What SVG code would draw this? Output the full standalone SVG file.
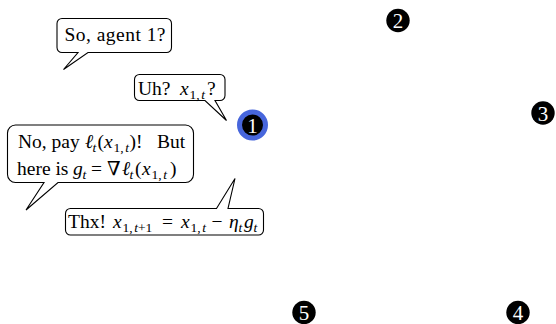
<svg xmlns="http://www.w3.org/2000/svg" width="556" height="324" viewBox="0 0 556 324">
<style>
.b{fill:#fff;stroke:#000;stroke-width:1.1;stroke-linejoin:miter}
.t{font-family:"Liberation Serif","DejaVu Serif",serif;font-size:19.5px;fill:#000}
.i{font-style:italic}
.s{font-size:13.5px}
.dot{fill:#000}
.n{font-family:"Liberation Serif","DejaVu Serif",serif;font-size:21px;fill:#fff;text-anchor:middle}
</style>
<rect width="556" height="324" fill="#fff"/>
<g id="agent1">
<circle cx="252.5" cy="125" r="13" fill="#000" stroke="#4766dc" stroke-width="5"/>
<text class="n" x="252.5" y="132.5">1</text>
</g>
<g id="agent2">
<circle class="dot" cx="398" cy="20.5" r="11.7"/>
<text class="n" x="398" y="28">2</text>
</g>
<g id="agent3">
<circle class="dot" cx="543" cy="113" r="11.7"/>
<text class="n" x="543" y="120.5">3</text>
</g>
<g id="agent4">
<circle class="dot" cx="518" cy="312.5" r="11.7"/>
<text class="n" x="518" y="320">4</text>
</g>
<g id="agent5">
<circle class="dot" cx="304" cy="312.5" r="11.7"/>
<text class="n" x="304" y="320">5</text>
</g>
<g id="bubble-so">
<path class="b" d="M62,18.5 H166.5 A5,5 0 0 1 171.5,23.5 V47.5 A5,5 0 0 1 166.5,52.5 H88 L63.5,69.5 L78,52.5 H62 A5,5 0 0 1 57,47.5 V23.5 A5,5 0 0 1 62,18.5 Z"/>
<text class="t" x="64.5" y="41" textLength="101" lengthAdjust="spacing">So, agent 1?</text>
</g>
<g id="bubble-uh">
<path class="b" d="M139.5,74.5 H220 A5,5 0 0 1 225,79.5 V95.5 A5,5 0 0 1 220,100.5 H215 L226.5,120.5 L205,100.5 H139.5 A5,5 0 0 1 134.5,95.5 V79.5 A5,5 0 0 1 139.5,74.5 Z"/>
<text class="t" y="94.5"><tspan x="138">Uh?</tspan><tspan x="180" class="i">x</tspan><tspan x="189.5" y="98.5" class="s">1,<tspan class="i" dx="1.5">t</tspan></tspan><tspan x="207" y="94.5">?</tspan></text>
</g>
<g id="bubble-pay">
<path class="b" d="M15.5,125 H185.5 A8,8 0 0 1 193.5,133 V174.5 A8,8 0 0 1 185.5,182.5 H58 L26,210 L44,182.5 H15.5 A8,8 0 0 1 7.5,174.5 V133 A8,8 0 0 1 15.5,125 Z"/>
<text class="t" y="147.5"><tspan x="18">No, pay</tspan><tspan x="85" class="i">ℓ</tspan><tspan x="92.5" y="151.5" class="s i">t</tspan><tspan x="97.5" y="147.5">(</tspan><tspan x="104" class="i">x</tspan><tspan x="113.5" y="151.5" class="s">1,<tspan class="i" dx="1.5">t</tspan></tspan><tspan x="129.5" y="147.5">)!</tspan><tspan x="157">But</tspan></text>
<text class="t" y="175"><tspan x="17">here is</tspan><tspan x="73" class="i">g</tspan><tspan x="82.5" y="179" class="s i">t</tspan><tspan x="91" y="175">=</tspan><tspan x="107">∇</tspan><tspan x="122" class="i">ℓ</tspan><tspan x="129.5" y="179" class="s i">t</tspan><tspan x="135" y="175">(</tspan><tspan x="142" class="i">x</tspan><tspan x="151.5" y="179" class="s">1,<tspan class="i" dx="1.5">t</tspan></tspan><tspan x="170" y="175">)</tspan></text>
</g>
<g id="bubble-thx">
<path class="b" d="M70.5,208.5 H216.5 L235,178.5 L228,208.5 H258.5 A5,5 0 0 1 263.5,213.5 V230 A5,5 0 0 1 258.5,235 H70.5 A5,5 0 0 1 65.5,230 V213.5 A5,5 0 0 1 70.5,208.5 Z"/>
<text class="t" y="228"><tspan x="68">Thx!</tspan><tspan x="113" class="i">x</tspan><tspan x="122.5" y="232" class="s">1,<tspan class="i" dx="1.5">t</tspan>+1</tspan><tspan x="162" y="228">=</tspan><tspan x="181" class="i">x</tspan><tspan x="190.5" y="232" class="s">1,<tspan class="i" dx="1.5">t</tspan></tspan><tspan x="211.5" y="228">−</tspan><tspan x="229" class="i">η</tspan><tspan x="238.5" y="232" class="s i">t</tspan><tspan x="244" y="228" class="i">g</tspan><tspan x="253.5" y="232" class="s i">t</tspan></text>
</g>
</svg>
